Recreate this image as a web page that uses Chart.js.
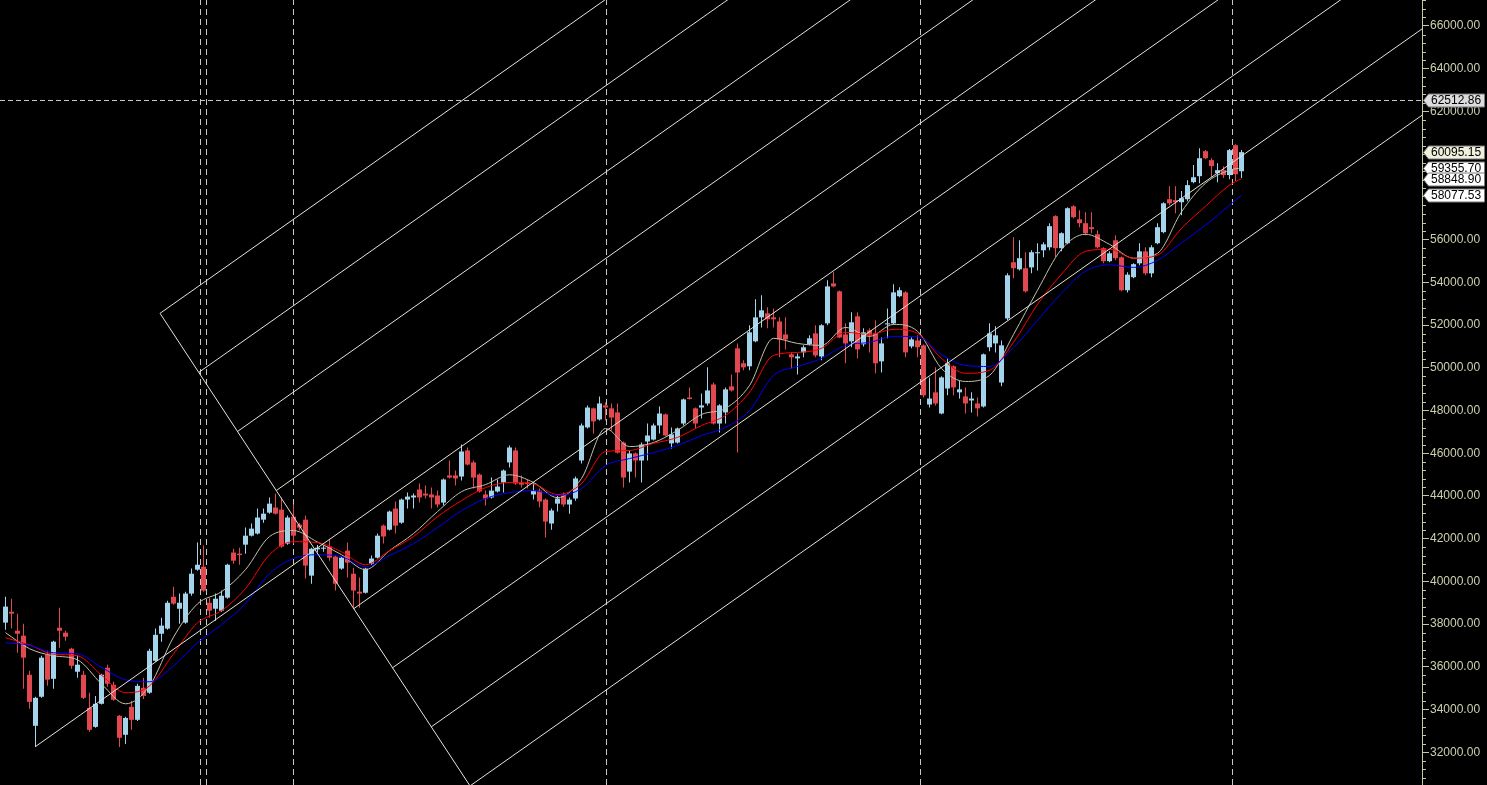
<!DOCTYPE html>
<html><head><meta charset="utf-8">
<script src="https://cdn.jsdelivr.net/npm/chart.js@4.4.1/dist/chart.umd.min.js"></script>
<style>html,body{margin:0;padding:0;background:#000;overflow:hidden}canvas{display:block}</style>
</head><body>
<canvas id="c" width="1487" height="785"></canvas>
<script>
const opens = [38070,38580,37690,37460,35630,33240,34600,36570,35440,37830,
37600,36850,35770,35630,34080,33190,34270,35960,35160,33710,
32820,34130,33520,35020,34790,36280,37550,37790,39280,38720,
38070,39430,40550,40690,39000,38720,38630,39240,41350,41300,
41720,42140,42240,42890,43220,43460,43360,41770,43030,42660,
42890,40270,41500,41530,41630,41160,40600,41440,40360,39520,
39470,40830,41110,42610,42420,43410,42750,43830,43930,44300,
44110,44070,44020,43690,44960,44960,44910,46130,45570,45000,
44070,43930,44210,44630,45570,46130,44630,44630,44070,44250,
43830,42710,43640,44070,43600,43880,45660,47210,48100,47580,
48240,48100,47910,46500,45140,45990,45660,46550,46640,47300,
47820,46460,46500,47390,48610,48100,48140,48330,49220,47390,
47910,49130,50910,50210,50070,51240,52360,52550,52360,52170,
51560,50630,50440,50720,51100,51610,50530,52080,53950,53580,
51560,51240,52410,51100,51750,51610,50300,52030,52080,53350,
53530,51000,51280,51050,48280,48850,47860,49030,50070,48850,
48660,48470,48330,48190,50960,51140,49310,52310,54940,54610,
54660,54700,55360,55500,55640,57100,55600,55830,57560,56950,
56770,56580,56250,55600,54990,55970,55170,53630,54240,54890,
55450,54420,55830,56350,57890,57850,57750,57890,58690,58970,
60140,59720,59110,59250,59020,60420,59200];
const highs = [39280,39190,38490,38020,35820,34600,36520,36750,37220,38770,
37690,36890,36520,35820,34790,34640,35680,36100,35300,33750,
33660,34410,35210,35490,36850,37790,38300,39100,39750,39430,
39520,40600,41820,41680,39240,39430,39570,40830,41530,41580,
42520,42710,43410,43410,43930,44110,43930,43080,43600,42750,
43080,41580,41700,41680,42000,41210,41160,41820,40640,40180,
40640,41210,42240,42660,43320,43740,43880,44160,44110,44580,
44490,44390,44250,44820,45660,45190,46410,46270,45660,45050,
44250,44860,44770,45240,46360,46270,44960,44770,44630,44350,
43880,43410,44020,44160,43930,44910,47390,48240,48140,48660,
48380,48330,48330,46550,46130,46030,46500,47390,47390,48190,
47860,47210,47210,48560,49080,48140,48800,50020,49310,48290,
49080,49690,51140,50350,51990,53210,53390,52830,52780,52360,
52360,50720,50670,51050,51520,51990,52040,54100,54470,53620,
52080,52600,52600,51850,51850,52220,51420,52780,53910,53770,
53580,51420,51520,51090,49550,50020,49600,50440,50110,49410,
49080,48850,48610,50670,52080,51940,51280,54420,56110,55970,
55410,55500,55830,55880,56770,57140,56350,57520,57610,57380,
57280,57280,56440,55640,55450,56200,55210,54470,54890,55830,
55640,55740,56770,57750,58500,58500,58270,58780,59490,60280,
60190,59810,59580,59440,60240,60470,60190];
const lows = [37740,37790,36660,34970,34040,32250,34550,35110,34970,36890,
37220,35910,35490,34500,32960,33150,34240,35070,34410,32250,
32390,33050,33470,34500,34740,36240,37180,37740,38910,38020,
38020,39330,40500,39520,38300,38160,38580,39190,40830,40780,
41300,42100,42190,42750,43170,43130,41580,41720,41770,42380,
40130,39890,41350,41390,40970,39570,40550,40180,38770,38770,
39430,40780,41070,41770,42380,42240,42700,43410,43410,43690,
43880,43410,43460,43550,44820,44490,44720,45420,44350,44160,
43550,43880,44160,44160,45330,44530,44390,44350,43830,43460,
42050,42420,43270,43500,43170,43780,45520,47160,46920,47530,
47530,47060,45990,44390,44630,44860,44630,45660,46600,46920,
46780,46220,46460,47300,48520,47160,47630,48240,47350,46970,
47390,48890,46030,49880,49880,51190,51890,51850,51890,50490,
50860,49970,49690,50490,51050,50490,50350,51990,53770,51380,
50210,50960,50440,51000,50720,49740,49780,51380,52030,53300,
50490,50910,50490,48610,48140,48240,47820,48710,48710,48560,
47860,47910,47720,48140,50770,50720,49130,52220,54190,54560,
53530,54420,54560,55170,55500,55170,55450,55780,57000,56580,
56200,56300,55600,54890,54940,55030,53580,53530,54190,54800,
54330,54240,55780,56300,57610,57240,57140,57800,58640,58640,
59770,58920,58690,58880,58830,58740,58880];
const closes = [38820,38490,37550,36430,34360,34550,36430,35400,37180,37690,
37410,36050,36100,34550,33050,34270,35630,35210,34460,32680,
33610,33520,35110,34640,36750,37500,37930,39000,38960,39000,
39430,40360,40780,39570,38630,39190,39330,40780,40970,41230,
42140,42470,42990,43170,43640,43170,41630,42990,42140,42520,
40740,41530,41580,41580,41110,39890,41110,40880,39570,39430,
40600,41070,42140,42100,43270,42610,43830,43970,44020,43930,
44020,43930,43600,44770,44860,44820,46080,45470,44860,44210,
43880,44250,44440,45190,46270,44580,44530,44560,44250,43740,
42800,43320,43880,43600,43830,44820,47300,48140,47490,48330,
48140,47670,46030,44860,45990,45660,46410,46830,47300,47860,
46830,46880,47160,48520,48540,47390,48240,48940,47390,48240,
48990,48940,49780,50020,51660,52360,52690,52270,52270,51330,
51330,50490,50530,50960,51380,50580,51990,53810,53810,51420,
51140,52130,50860,51660,51520,50210,51140,52080,53530,53630,
50720,51330,50960,48710,48560,48330,49550,50210,49080,48990,
48330,48560,48100,50630,51610,51520,51050,54330,54660,55130,
53580,55410,55410,55780,56630,55600,56300,57470,57050,56770,
56300,56490,55640,54990,55360,55130,53630,54360,54850,55450,
54420,55640,56580,57700,57700,57750,57940,58550,58920,59810,
59810,59440,59250,59020,60190,59060,60095.15];

const maIndex = [0,4,8,12,16,20,24,28,32,36,40,44,48,52,56,60,64,68,72,76,80,84,88,92,96,100,
104,108,112,116,120,124,128,132,136,140,144,148,152,156,160,164,168,172,176,180,184,188,192,196,200,204,206];
const maFast = [37600,36850,36520,36330,35200,34270,35110,37390,38950,39520,40550,42100,42380,41840,41250,40550,
41440,42240,43270,44200,44530,44990,44630,43920,44820,47160,46310,46500,47070,47815,48100,49170,51380,51140,
51050,51890,51470,52030,51710,49970,49360,49640,51560,53630,55550,56250,55780,55130,55360,57300,58640,59250,59355.70];
const maMid = [37360,37030,36590,36520,35610,34790,35110,36610,38060,38630,39660,41250,41860,41815,41390,40780,
41440,42100,43030,43780,44390,44630,44560,44065,44580,46080,46130,46460,46740,47300,47770,48850,50580,50720,
50910,51660,51560,51800,51610,50440,49740,49880,51190,52970,54380,55450,55550,55130,55270,56530,57560,58550,58848.90];
const maSlow = [37130,37010,36660,36610,35980,35395,35300,36050,37130,37970,38960,40360,41070,41250,41160,40690,
41210,41770,42520,43310,43880,44160,44250,44020,44350,45420,45750,46030,46360,46830,47210,48000,49640,50060,
50440,51050,51190,51470,51450,50620,50110,50060,50950,52220,53490,54520,54820,54700,55030,55850,56670,57610,58077.53];

const yTickValues = [32000,34000,36000,38000,40000,42000,44000,46000,48000,50000,52000,54000,56000,58000,60000,62000,64000,66000];
const separatorIndex = [32.5, 33.5, 48, 100.17, 152.5, 204.5];
const refLineValue = 62512.86;
const tagValues = [62512.86, 60095.15, 59355.70, 58848.90, 58077.53];
const pitchAnchor = [4.92, 32254];
const pitchB = [25.75, 52549];
const pitchC = [77.42, 30426];
const pitchLevels = [0, 0.125, 0.25, 0.375, 0.625, 0.75, 0.875, 1];

const X_MIN = -0.9167, X_MAX = 236.0833, Y_MIN = 30469, Y_MAX = 67217;
const UP = '#a4d3ec', DOWN = '#e2484f', AXIS = '#c8c8a8';
const tagFill = ['#dcdcdc', '#f0f0dc', '#ffffff', '#ffffff', '#ffffff'];

const candleColors = closes.map((c, i) => c >= opens[i] ? UP : DOWN);
const datasets = [];
datasets.push({type:'bar', data: lows.map((l, i) => ({x: i, y: [l, highs[i]]})), backgroundColor: candleColors,
  barThickness: 1, grouped: false, borderWidth: 0, inflateAmount: 0, order: 9});
datasets.push({type:'bar', data: opens.map((o, i) => ({x: i, y: [o, closes[i]]})), backgroundColor: candleColors,
  barThickness: 5, minBarLength: 1, grouped: false, borderWidth: 0, inflateAmount: 0, order: 8});
const maLine = (vals, color) => ({type:'line', data: maIndex.map((ix, k) => ({x: ix, y: vals[k]})), borderColor: color,
  borderWidth: 1, pointRadius: 0, fill: false, cubicInterpolationMode: 'monotone', order: 5});
datasets.push(maLine(maSlow, '#0000ff'));
datasets.push(maLine(maMid, '#ff0000'));
datasets.push(maLine(maFast, '#c2c2ae'));
separatorIndex.forEach(s => datasets.push({type:'line', data:[{x:s, y:Y_MIN},{x:s, y:Y_MAX}], borderColor:'#c8c8c8',
  borderWidth:1, borderDash:[6,4], pointRadius:0, fill:false, order: 10}));
datasets.push({type:'line', data:[{x:X_MIN, y:refLineValue},{x:X_MAX, y:refLineValue}], borderColor:'#c8c8c8',
  borderWidth:1, borderDash:[5,3], pointRadius:0, fill:false, order: 10});
// Andrews pitchfork
const dI = (pitchB[0] + pitchC[0]) / 2 - pitchAnchor[0];
const dV = (pitchB[1] + pitchC[1]) / 2 - pitchAnchor[1];
const FAR = 8;
const forkLine = pts => ({type:'line', data: pts, borderColor:'#e4e4da', borderWidth:1, pointRadius:0, fill:false, order: 2});
datasets.push(forkLine([{x:pitchAnchor[0], y:pitchAnchor[1]}, {x:pitchAnchor[0] + FAR*dI, y:pitchAnchor[1] + FAR*dV}]));
pitchLevels.forEach(f => {
  const sx = pitchB[0] + f*(pitchC[0] - pitchB[0]);
  const sy = pitchB[1] + f*(pitchC[1] - pitchB[1]);
  datasets.push(forkLine([{x:sx, y:sy}, {x:sx + FAR*dI, y:sy + FAR*dV}]));
});
datasets.push(forkLine([{x:pitchB[0], y:pitchB[1]}, {x:pitchC[0], y:pitchC[1]}]));

const overlay = {
  id: 'overlay',
  afterDraw(chart) {
    const ctx = chart.ctx, ys = chart.scales.y, area = chart.chartArea;
    ctx.save();
    ctx.strokeStyle = AXIS; ctx.lineWidth = 1;
    for (let v = Math.ceil(Y_MIN / 400) * 400; v <= Y_MAX; v += 400) {
      if (v % 2000 === 0) continue;
      const y = Math.round(ys.getPixelForValue(v)) + 0.5;
      ctx.beginPath(); ctx.moveTo(area.right, y); ctx.lineTo(area.right + 4, y); ctx.stroke();
    }
    ctx.font = '12px "Liberation Sans", Arial, sans-serif';
    ctx.textBaseline = 'middle';
    tagValues.forEach((v, k) => {
      const y = Math.round(ys.getPixelForValue(v)) + 0.5;
      const x0 = area.right + 1.5, x1 = area.right + 6.5, x2 = chart.width - 2.5, h = 6.5;
      ctx.beginPath();
      ctx.moveTo(x0, y); ctx.lineTo(x1, y - h); ctx.lineTo(x2, y - h); ctx.lineTo(x2, y + h); ctx.lineTo(x1, y + h); ctx.closePath();
      ctx.fillStyle = tagFill[k]; ctx.fill();
      ctx.strokeStyle = '#7a7a7a'; ctx.stroke();
      ctx.fillStyle = '#000'; ctx.fillText(v.toFixed(2), x1 + 2.5, y + 0.5);
    });
    ctx.restore();
  }
};

new Chart(document.getElementById('c'), {
  type: 'bar',
  data: { datasets },
  options: {
    responsive: false, animation: false,
    layout: { padding: 0 },
    plugins: { legend: { display: false }, tooltip: { enabled: false } },
    scales: {
      x: { type: 'linear', display: false, min: X_MIN, max: X_MAX, offset: false, grid: { display: false } },
      y: {
        type: 'linear', position: 'right', min: Y_MIN, max: Y_MAX,
        afterBuildTicks: s => { s.ticks = yTickValues.map(v => ({ value: v })); },
        afterFit: s => { s.width = 65; s.paddingTop = 0; s.paddingBottom = 0; },
        ticks: { color: '#cfcfb0', autoSkip: false, padding: 1, font: { family: 'Liberation Sans', size: 12 },
          callback: v => Number(v).toFixed(2) },
        grid: { drawOnChartArea: false, drawTicks: true, tickLength: 7, color: AXIS, lineWidth: 1 },
        border: { display: true, color: AXIS, width: 1 }
      }
    }
  },
  plugins: [overlay]
});
</script>
</body></html>
